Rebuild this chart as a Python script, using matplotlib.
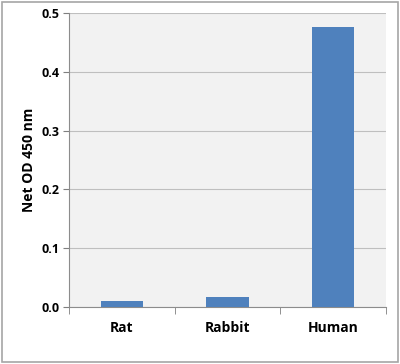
import numpy as np
import matplotlib.pyplot as plt
from matplotlib.patches import Rectangle

# =========================
# Data
# =========================
species = ["Rat", "Rabbit", "Human"]
net_od = [0.010, 0.017, 0.476]
y_ticks = [0.0, 0.1, 0.2, 0.3, 0.4, 0.5]

BAR_COLOR = "#4F81BD"
GRID_COLOR = "#BFBFBF"
FONT = "Open Sans"

fig = plt.figure(figsize=(4.0, 3.64), dpi=100)
ax = fig.add_axes([0.1725, 0.1566, 0.7925, 0.8077])
ax.set_facecolor("#F2F2F2")

x = np.arange(len(species))
ax.bar(x, net_od, width=0.4, color=BAR_COLOR, zorder=3)

ax.set_xlim(-0.5, len(species) - 0.5)
ax.set_ylim(0, 0.5)
ax.set_yticks(y_ticks)
ax.set_yticklabels([f"{v:.1f}" for v in y_ticks], fontsize=9,
                   fontweight="bold", family=FONT)
ax.yaxis.grid(True, color=GRID_COLOR, linewidth=0.8, zorder=0)

ax.set_xticks(x)
ax.set_xticklabels(species, fontsize=10, fontweight="bold", family=FONT)
ax.tick_params(axis="x", length=0, pad=10)
ax.set_xticks(np.arange(-0.5, len(species)), minor=True)
ax.tick_params(axis="x", which="minor", length=5, color="#7F7F7F")
ax.tick_params(axis="y", length=4, color="#7F7F7F", pad=3)

for side in ["top", "right"]:
    ax.spines[side].set_visible(False)
for side in ["left", "bottom"]:
    ax.spines[side].set_color("#8C8C8C")
    ax.spines[side].set_linewidth(0.8)

ax.set_ylabel("Net OD 450 nm", fontsize=10, fontweight="bold", family=FONT,
              labelpad=4)

# outer chart border
fig.patches.append(Rectangle((0.005, 0.005), 0.99, 0.99, transform=fig.transFigure,
                             fill=False, edgecolor="#A6A6A6", linewidth=1.2))

fig.savefig("out.png", dpi=100)
